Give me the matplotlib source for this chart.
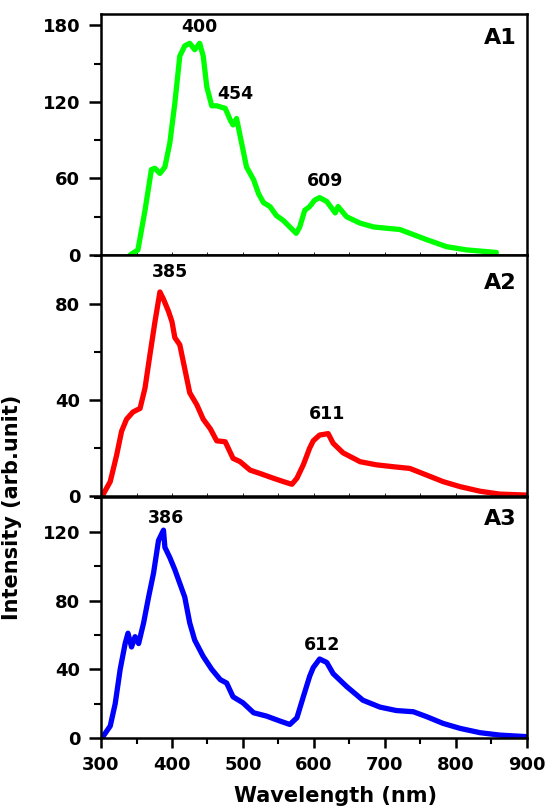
import matplotlib.pyplot as plt
from matplotlib.ticker import MultipleLocator

# A1 spectrum (green)
wl_a1 = [341, 352, 362, 371, 376, 383, 390, 397, 404, 411, 418, 425, 432, 439, 444, 449,
         456, 463, 475, 482, 486, 491, 498, 505, 515, 522, 529, 538, 547, 557, 566, 575,
         580, 587, 594, 601, 608, 618, 630, 634, 646, 665, 684, 702, 721, 740, 759, 787,
         815, 857]
int_a1 = [0, 4, 35, 67, 68, 64, 69, 88, 119, 156, 164, 166, 161, 166, 156, 132,
          117, 117, 115, 106, 102, 107, 88, 69, 59, 48, 41, 38, 31, 27, 22, 17,
          22, 35, 38, 43, 45, 42, 33, 38, 30, 25, 22, 21, 20, 16, 12, 6.5,
          4, 2]

# A2 spectrum (red)
wl_a2 = [301, 303, 313, 322, 329, 336, 345, 355, 362, 369, 376, 383, 388, 395, 400, 404,
         411, 418, 425, 435, 444, 454, 463, 475, 486, 496, 510, 524, 543, 557, 569, 576,
         585, 594, 599, 608, 620, 627, 641, 665, 688, 712, 735, 759, 782, 806, 834, 862, 900]
int_a2 = [0, 0.7, 6, 17, 27, 32, 35, 36.5, 45, 59, 72.6, 85, 82, 77, 72.6, 66,
          63, 53, 43, 38, 32, 28, 23, 22.6, 15.7, 14.3, 10.8, 9.4, 7.4, 6, 4.9, 7.4,
          13, 20, 23, 25.4, 26, 22, 18, 14.3, 13, 12.2, 11.5, 8.7, 6, 3.9, 2, 0.8, 0.4]

# A3 spectrum (blue)
wl_a3 = [301, 303, 313, 320, 327, 334, 338, 343, 348, 353, 360, 367, 374, 381, 388, 390,
         397, 404, 411, 418, 425, 432, 444, 456, 468, 477, 486, 500, 515, 533, 552, 566,
         576, 585, 594, 599, 608, 618, 627, 646, 669, 693, 716, 740, 759, 782, 806, 834,
         862, 900]
int_a3 = [0, 1, 7, 20, 40, 55, 61, 53, 59, 55, 67, 82, 96, 115, 121, 111,
          105, 98, 90, 82, 67, 57, 47.5, 40, 34, 32, 24, 20.5, 14.7, 12.8, 9.9, 7.9,
          11.8, 24, 36, 41, 46, 44, 37.5, 30, 22, 18, 16, 15.3, 12.4, 8.5, 5.6, 3.1,
          1.7, 0.8]

fig = plt.figure(figsize=(5.46, 8.08), dpi=100)
left, width = 0.185, 0.78
bottoms = [0.6844, 0.3861, 0.0866]
height = 0.2983

panels = [
    (wl_a1, int_a1, '#00ff00', (0, 189), 60, 30, 'A1', 0.902,
     [('400', 439, 179), ('454', 489, 126.6), ('609', 615, 58)]),
    (wl_a2, int_a2, '#ff0000', (0, 100.4), 40, 20, 'A2', 0.882,
     [('385', 397, 93.3), ('611', 618, 34)]),
    (wl_a3, int_a3, '#0000ff', (0, 140.3), 40, 20, 'A3', 0.909,
     [('386', 391.5, 128), ('612', 611, 54)]),
]

for i, (x, y, col, ylim, major, minor, tag, tag_y, notes) in enumerate(panels):
    ax = fig.add_axes([left, bottoms[i], width, height])
    ax.plot(x, y, color=col, lw=3.8, solid_joinstyle='round', solid_capstyle='round')
    ax.set_xlim(300, 900)
    ax.set_ylim(*ylim)
    ax.yaxis.set_major_locator(MultipleLocator(major))
    ax.yaxis.set_minor_locator(MultipleLocator(minor))
    ax.xaxis.set_major_locator(MultipleLocator(100))
    ax.xaxis.set_minor_locator(MultipleLocator(50))
    for s in ax.spines.values():
        s.set_linewidth(1.8)
    ax.tick_params(axis='y', which='major', direction='out', length=9, width=1.8,
                   labelsize=13, pad=6)
    ax.tick_params(axis='y', which='minor', direction='out', length=5, width=1.5)
    for lab in ax.get_yticklabels():
        lab.set_fontweight('bold')
    if i < 2:
        ax.tick_params(axis='x', which='both', direction='in', length=2, width=0.6,
                       labelbottom=False)
    else:
        ax.tick_params(axis='x', which='major', direction='out', length=7, width=1.8,
                       labelsize=13, pad=6)
        ax.tick_params(axis='x', which='minor', direction='out', length=4, width=1.5)
        for lab in ax.get_xticklabels():
            lab.set_fontweight('bold')
        ax.set_xlabel('Wavelength (nm)', fontsize=15, fontweight='bold')
        ax.xaxis.set_label_coords(0.55, -0.2)
    ax.text(0.976, tag_y, tag, transform=ax.transAxes, ha='right', va='center',
            fontsize=16, fontweight='bold')
    for txt, xx, yy in notes:
        ax.text(xx, yy, txt, ha='center', va='center', fontsize=12.5,
                fontweight='bold')

fig.text(0.022, 0.3725, 'Intensity (arb.unit)', rotation=90,
         ha='center', va='center', fontsize=15, fontweight='bold')

plt.savefig('out.png', dpi=100)
